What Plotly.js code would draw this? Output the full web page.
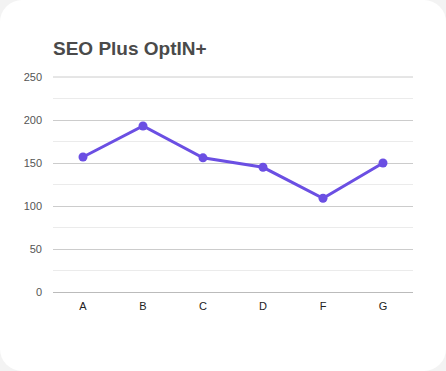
<!DOCTYPE html>
<html>
<head>
<meta charset="utf-8">
<script src="https://cdn.plot.ly/plotly-3.0.1.min.js"></script>
<style>
  html, body { margin: 0; padding: 0; background: #f3f3f3; }
  #card { position: absolute; left: 0; top: 0; width: 446px; height: 371px; background: #ffffff; border-radius: 22px; overflow: hidden; }
  #chart { width: 446px; height: 371px; }
</style>
</head>
<body>
<div id="card"><div id="chart"></div></div>
<script>
const categories = ['A', 'B', 'C', 'D', 'F', 'G'];
const values = [157, 193, 156, 145, 109, 150];
const yTickVals = [0, 50, 100, 150, 200, 250];
const chartTitle = 'SEO Plus OptIN+';

const trace = {
  x: categories,
  y: values,
  type: 'scatter',
  mode: 'lines+markers',
  line: { color: '#6b4fe3', width: 3 },
  marker: { color: '#6b4fe3', size: 9 },
  hoverinfo: 'x+y'
};

const layout = {
  width: 446,
  height: 371,
  paper_bgcolor: 'rgba(0,0,0,0)',
  plot_bgcolor: 'rgba(0,0,0,0)',
  margin: { l: 53, r: 33, t: 77, b: 79 },
  showlegend: false,
  font: { family: 'Liberation Sans, Arial, sans-serif', color: '#444' },
  title: {
    text: '<b>' + chartTitle + '</b>',
    font: { size: 19, color: '#4a4a4a', family: 'Liberation Sans, Arial, sans-serif' },
    xref: 'paper', x: 0, xanchor: 'left',
    yref: 'container', y: 1 - 48 / 371, yanchor: 'middle'
  },
  xaxis: {
    type: 'category',
    range: [-0.5, 5.5],
    showgrid: false,
    zeroline: false,
    showline: false,
    ticks: '',
    ticklabelstandoff: 6,
    tickfont: { size: 11, color: '#222' },
    fixedrange: true
  },
  yaxis: {
    range: [0, 250],
    tickvals: yTickVals,
    showgrid: true,
    gridcolor: '#cccccc',
    gridwidth: 1,
    zeroline: true,
    zerolinecolor: '#bbbbbb',
    zerolinewidth: 1,
    showline: false,
    ticks: '',
    ticklabelstandoff: 10,
    tickfont: { size: 11, color: '#555' },
    minor: { dtick: 25, tick0: 0, showgrid: true, gridcolor: '#ebebeb', gridwidth: 1, ticks: '' },
    fixedrange: true
  },
  shapes: [{
    type: 'line', xref: 'paper', yref: 'paper',
    x0: 0, x1: 1, y0: 1, y1: 1,
    line: { color: '#cccccc', width: 1 },
    layer: 'below'
  }]
};

Plotly.newPlot('chart', [trace], layout, { displayModeBar: false });
</script>
</body>
</html>
